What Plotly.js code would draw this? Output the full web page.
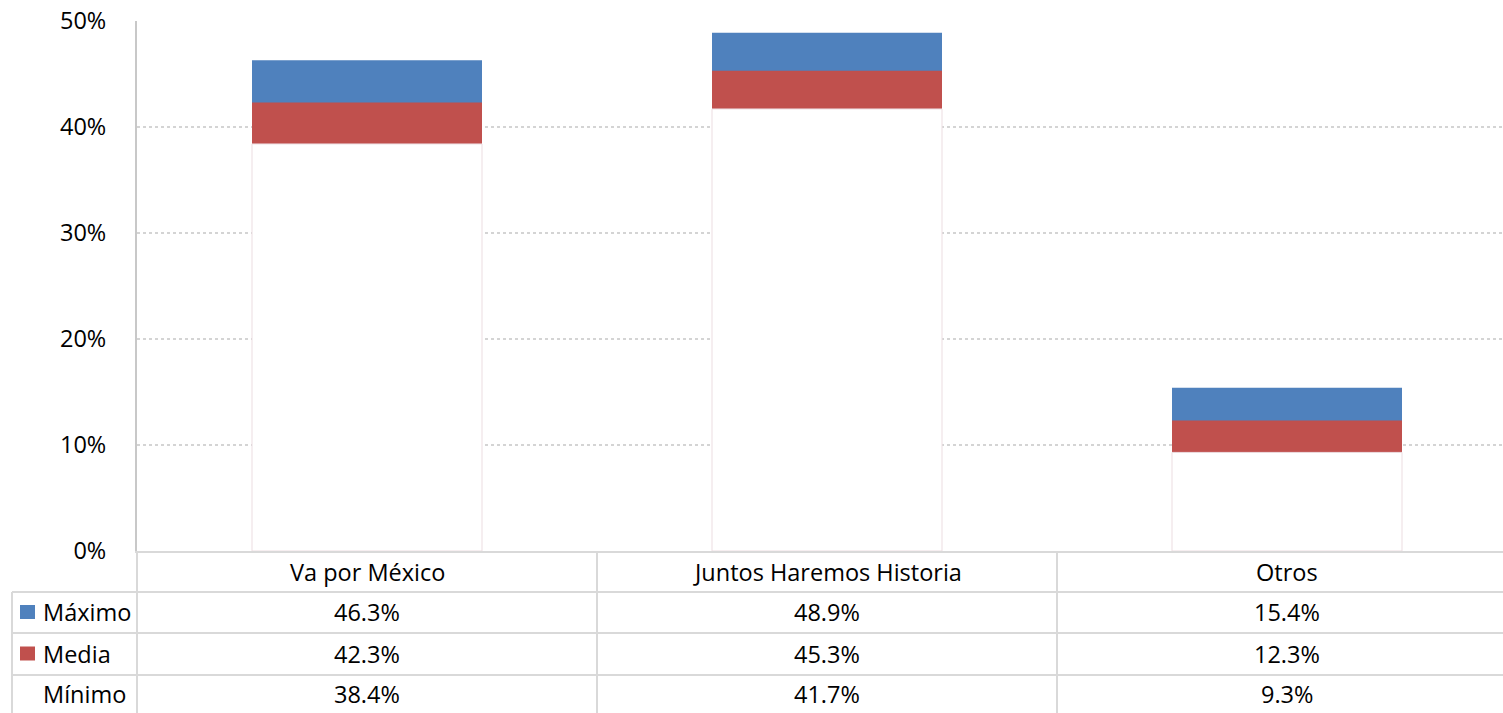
<!DOCTYPE html>
<html>
<head>
<meta charset="utf-8">
<script src="https://cdn.plot.ly/plotly-3.0.1.min.js"></script>
<style>
  html, body { margin: 0; padding: 0; background: #fff; overflow: hidden; }
  #chart { width: 1503px; height: 713px; }
</style>
</head>
<body>
<div id="chart"></div>
<script>
var categories = ['Va por México', 'Juntos Haremos Historia', 'Otros'];
var seriesNames = ['Máximo', 'Media', 'Mínimo'];
var maximo = [46.3, 48.9, 15.4];
var media = [42.3, 45.3, 12.3];
var minimo = [38.4, 41.7, 9.3];
var yTicks = [0, 10, 20, 30, 40, 50];

var colors = ['#4f81bd', '#c0504d', '#ffffff'];
var seriesValues = [maximo, media, minimo];

var W = 1503, H = 713;
var plotLeft = 137, plotTop = 21, plotBottom = 551;
var plotH = plotBottom - plotTop, plotW = W - plotLeft;
var font = 'Open Sans, sans-serif';
var fs = 23.5;
var gridCol = '#d9d9d9';

// pixel helpers for the table under the plot
function py(px) { return (plotBottom - px) / plotH; }
function pxX(px) { return (px - plotLeft) / plotW; }

var xs = categories.map(function (c, i) { return i; });

// overlay: tallest first, then the lower ones drawn on top
var data = seriesValues.map(function (vals, k) {
    return {
        type: 'bar',
        x: xs,
        y: vals,
        name: seriesNames[k],
        width: 0.5,
        marker: {
            color: colors[k],
            line: { color: k == 2 ? '#ecdde1' : colors[k], width: k == 2 ? 1 : 0 }
        },
        hoverinfo: 'skip'
    };
});

var rowLines = [551, 592, 633, 675, 716];
var rowMid = [572, 612, 653.5, 694.5];

var shapes = [];
var annotations = [];

// horizontal table lines
for (var r = 1; r < rowLines.length - 1; r++) {
    shapes.push({
        type: 'line', xref: 'paper', yref: 'paper',
        x0: pxX(12), x1: 1, y0: py(rowLines[r]), y1: py(rowLines[r]),
        line: { color: gridCol, width: 2 }
    });
}
// vertical table lines
shapes.push({
    type: 'line', xref: 'paper', yref: 'paper',
    x0: pxX(12), x1: pxX(12), y0: py(592), y1: py(716),
    line: { color: gridCol, width: 2 }
});
shapes.push({
    type: 'line', xref: 'paper', yref: 'paper',
    x0: 0, x1: 0, y0: py(551), y1: py(716),
    line: { color: gridCol, width: 2 }
});
for (var c = 0; c < categories.length - 1; c++) {
    shapes.push({
        type: 'line', xref: 'x', yref: 'paper',
        x0: c + 0.5, x1: c + 0.5, y0: py(551), y1: py(716),
        line: { color: gridCol, width: 2 }
    });
}

// category header
categories.forEach(function (cat, i) {
    annotations.push({
        xref: 'x', yref: 'paper', x: i, y: py(rowMid[0]),
        text: cat, showarrow: false, xanchor: 'center', yanchor: 'middle',
        font: { family: font, size: fs, color: '#000' }
    });
});

// value rows + row labels
seriesValues.forEach(function (vals, k) {
    var yy = py(rowMid[k + 1]);
    if (k < 2) {
        shapes.push({
            type: 'rect', xref: 'paper', yref: 'paper',
            x0: pxX(20), x1: pxX(35), y0: py(rowMid[k + 1] - 7), y1: py(rowMid[k + 1] + 7),
            fillcolor: colors[k], line: { width: 0 }
        });
    }
    annotations.push({
        xref: 'paper', yref: 'paper', x: pxX(41), y: yy,
        text: seriesNames[k], showarrow: false, xanchor: 'left', yanchor: 'middle',
        font: { family: font, size: fs, color: '#000' }
    });
    vals.forEach(function (v, i) {
        annotations.push({
            xref: 'x', yref: 'paper', x: i, y: yy,
            text: v.toFixed(1) + '%', showarrow: false, xanchor: 'center', yanchor: 'middle',
            font: { family: font, size: fs, color: '#000' }
        });
    });
});

var layout = {
    width: W,
    height: H,
    margin: { l: plotLeft, r: 0, t: plotTop, b: H - plotBottom, pad: 0 },
    paper_bgcolor: '#fff',
    plot_bgcolor: '#fff',
    barmode: 'overlay',
    showlegend: false,
    font: { family: font, size: fs, color: '#000' },
    xaxis: {
        type: 'linear',
        range: [-0.5, -0.5 + plotW / 460],
        showticklabels: false,
        showgrid: false,
        zeroline: false,
        ticks: '',
        showline: true,
        linecolor: gridCol,
        linewidth: 2,
        fixedrange: true
    },
    yaxis: {
        range: [0, 50],
        tickvals: yTicks,
        ticktext: yTicks.map(function (t) { return t + '%'; }),
        tickfont: { family: font, size: fs, color: '#000' },
        ticklabelstandoff: 24,
        showgrid: true,
        gridcolor: '#d4d4d4',
        gridwidth: 1.5,
        griddash: 'dot',
        zeroline: false,
        showline: true,
        linecolor: '#c8c8c8',
        linewidth: 2,
        ticks: '',
        fixedrange: true
    },
    shapes: shapes,
    annotations: annotations
};

Plotly.newPlot('chart', data, layout, { displayModeBar: false, staticPlot: true });
</script>
</body>
</html>
